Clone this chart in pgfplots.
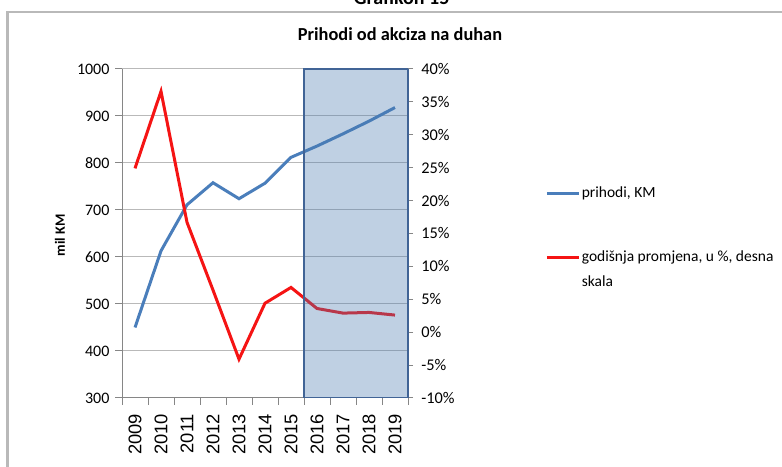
\documentclass[border=0pt]{standalone}
\usepackage{fontspec}
\setmainfont{Carlito}
\newfontfamily\xfont{Liberation Sans}
\usepackage{pgfplots}
\usepackage{pgfplotstable}
\pgfplotsset{compat=1.18}
\definecolor{exblue}{RGB}{74,126,187}
\definecolor{exred}{RGB}{245,20,20}
\definecolor{rectfill}{RGB}{72,121,175}
\definecolor{rectdraw}{RGB}{65,100,150}
\definecolor{gridgray}{RGB}{185,185,185}
\definecolor{axgray}{RGB}{134,134,134}

\pgfplotstableread{
x rev chg
0 450 24.9
1 613 36.6
2 711 16.7
3 758 6.4
4 724 -4.1
5 757 4.4
6 812 6.8
7 836 3.6
8 862 2.9
9 889 3.0
10 918 2.6
}\data

\begin{document}
\begin{tikzpicture}[x=1pt,y=1pt]
\useasboundingbox (0,0) rectangle (469.2,280.2);
\clip (0,0) rectangle (469.2,280.2);
\draw[gray!55, line width=1.5pt] (4.5,-10) rectangle (480,273);
\node[anchor=base, font=\bfseries\fontsize{12}{12}\selectfont] at (241,277.5) {Grafikon 15};
\node[anchor=base, font=\bfseries\fontsize{11}{12}\selectfont] at (240,255.6) {Prihodi od akciza na duhan};

\begin{axis}[
  at={(73.2pt,41.4pt)}, anchor=south west,
  scale only axis, width=171.6pt, height=197.4pt,
  xmin=-0.5, xmax=10.5, ymin=300, ymax=1000,
  axis x line*=bottom, axis y line*=left,
  axis line style={axgray, line width=0.6pt},
  ytick={300,400,...,1000},
  ymajorgrids, grid style={gridgray, line width=0.6pt},
  tick align=outside, major tick length=4pt,
  tick style={axgray, line width=0.6pt},
  xtick={-0.5,0.5,...,10.5},
  xticklabels={2009,2010,2011,2012,2013,2014,2015,2016,2017,2018,2019},
  x tick label as interval,
  xticklabel shift=2pt,
  x tick label style={rotate=90, anchor=east, font=\xfont\fontsize{11}{11}\selectfont},
  y tick label style={font=\fontsize{9.6}{10}\selectfont},
  /pgf/number format/assume math mode=true,
  /pgf/number format/1000 sep={},
  ylabel={mil KM},
  ylabel style={at={(axis description cs:-0.217,0.495)}, anchor=center, font=\bfseries\fontsize{8.5}{9}\selectfont},
]
\addplot[exblue, line width=1.8pt] table[x=x,y=rev]{\data};
\end{axis}

\begin{axis}[
  at={(73.2pt,41.4pt)}, anchor=south west,
  scale only axis, width=171.6pt, height=197.4pt,
  xmin=-0.5, xmax=10.5, ymin=-10, ymax=40,
  axis x line=none, axis y line*=right,
  axis line style={rectdraw, line width=1pt},
  ytick={-10,-5,...,40},
  yticklabel={\pgfmathprintnumber{\tick}\%},
  tick align=outside, major tick length=3pt,
  tick style={axgray, line width=0.6pt},
  yticklabel shift=1.5pt,
  y tick label style={font=\fontsize{9.8}{10}\selectfont},
  /pgf/number format/assume math mode=true,
  legend style={at={(axis description cs:1.462,0.657)}, anchor=north west, draw=none, fill=none,
    font=\fontsize{9.3}{15}\selectfont, nodes={inner sep=1pt}, row sep=28pt},
  legend cell align=left,
  legend image code/.code={\draw[#1] (0pt,0pt) -- (19pt,0pt);},
]
\addlegendimage{exblue, line width=1.8pt}
\addlegendentry{prihodi, KM}
\addplot[exred, line width=1.8pt] table[x=x,y=chg]{\data};
\addlegendentry{\parbox[t]{125pt}{\raggedright godišnja promjena, u \%, desna\\skala}}
\fill[rectfill, fill opacity=0.35] (axis cs:6.5,-10) rectangle (axis cs:10.5,40);
\draw[rectdraw, line width=1.2pt] (axis cs:6.5,-10) rectangle (axis cs:10.5,40);
\end{axis}
\end{tikzpicture}
\end{document}
